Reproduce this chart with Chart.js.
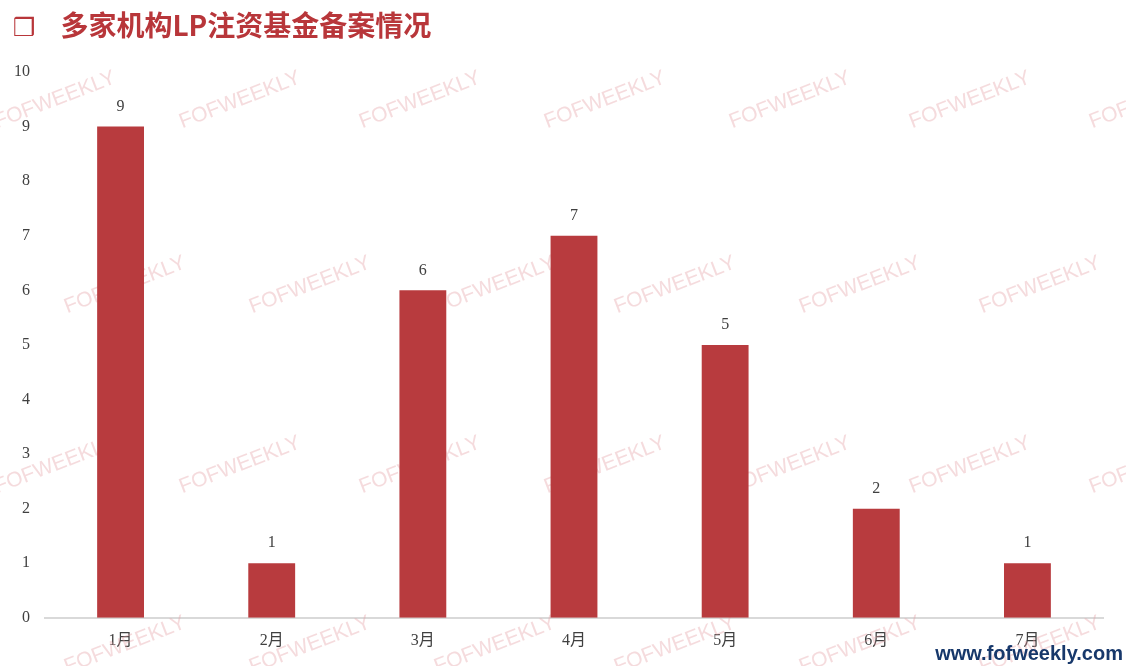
<!DOCTYPE html>
<html>
<head>
<meta charset="utf-8">
<script src="https://cdn.jsdelivr.net/npm/chart.js@4/dist/chart.umd.min.js"></script>
<style>
  html, body { margin: 0; padding: 0; background: #fff; }
  #wrap { position: relative; width: 1126px; height: 666px; overflow: hidden; }
  #title { position: absolute; left: 13px; top: 4px; font: bold 28px "Noto Sans CJK SC", sans-serif; color: #b8363a; white-space: nowrap; }
  #title .box { font-family: "DejaVu Sans"; font-weight: bold; font-size: 25px; margin-right: 25px; }
  #site { position: absolute; right: 3px; bottom: 1px; font: bold 20px "Liberation Sans", Arial, sans-serif; color: #17386b; }
  canvas { position: absolute; left: 0; top: 0; }
</style>
</head>
<body>
<div id="wrap">
  <canvas id="chartJSContainer" width="1126" height="666"></canvas>
  <div id="title"><span class="box">❒</span>多家机构LP注资基金备案情况</div>
  <div id="site">www.fofweekly.com</div>
</div>
<script>
var months = ["1月", "2月", "3月", "4月", "5月", "6月", "7月"];
var filings = [9, 1, 6, 7, 5, 2, 1];
var yTicks = [0, 1, 2, 3, 4, 5, 6, 7, 8, 9, 10];

// faint "FOFWEEKLY" watermark behind the bars
var watermark = {
  id: "watermark",
  beforeDatasetsDraw: function (chart) {
    var ctx = chart.ctx;
    var rowA = [55, 240, 420, 605, 790, 970, 1150];
    var rowB = [125, 310, 495, 675, 860, 1040];
    var rows = [[100, rowA], [285, rowB], [465, rowA], [645, rowB]];
    ctx.save();
    ctx.font = "21px 'Liberation Sans', Arial, sans-serif";
    ctx.fillStyle = "rgba(228, 160, 166, 0.38)";
    ctx.textAlign = "center";
    ctx.textBaseline = "middle";
    rows.forEach(function (r) {
      r[1].forEach(function (x) {
        ctx.save();
        ctx.translate(x, r[0]);
        ctx.rotate(-21 * Math.PI / 180);
        ctx.fillText("FOFWEEKLY", 0, 0);
        ctx.restore();
      });
    });
    ctx.restore();
  }
};

var valueLabels = {
  id: "valueLabels",
  afterDatasetsDraw: function (chart) {
    var ctx = chart.ctx;
    var meta = chart.getDatasetMeta(0);
    ctx.save();
    ctx.font = "16px 'Liberation Serif', serif";
    ctx.fillStyle = "#404040";
    ctx.textAlign = "center";
    ctx.textBaseline = "bottom";
    meta.data.forEach(function (bar, i) {
      ctx.fillText(filings[i], bar.x, bar.y - 12);
    });
    ctx.restore();
  }
};

var options = {
  type: "bar",
  data: {
    labels: months,
    datasets: [
      {
        label: "备案数量",
        data: filings,
        backgroundColor: "#b83b3e",
        categoryPercentage: 1,
        barPercentage: 0.31,
      },
    ],
  },
  options: {
    responsive: false,
    animation: false,
    layout: { padding: { top: 72, right: 23, bottom: 11, left: 7 } },
    plugins: {
      legend: { display: false },
      tooltip: { enabled: false },
    },
    scales: {
      x: {
        grid: { display: false },
        border: { display: true, color: "#d9d9d9", width: 2 },
        ticks: {
          color: "#404040",
          padding: 5,
          font: { family: "'Liberation Serif', 'Noto Sans CJK SC', serif", size: 16 },
        },
      },
      y: {
        min: 0,
        max: 10,
        afterBuildTicks: function (axis) {
          axis.ticks = yTicks.map(function (v) { return { value: v }; });
        },
        grid: { display: false },
        border: { display: false },
        ticks: {
          color: "#404040",
          padding: 7,
          font: { family: "'Liberation Serif', serif", size: 16 },
        },
      },
    },
  },
  plugins: [watermark, valueLabels],
};

var ctx = document.getElementById("chartJSContainer").getContext("2d");
var myChart = new Chart(ctx, options);
</script>
</body>
</html>
